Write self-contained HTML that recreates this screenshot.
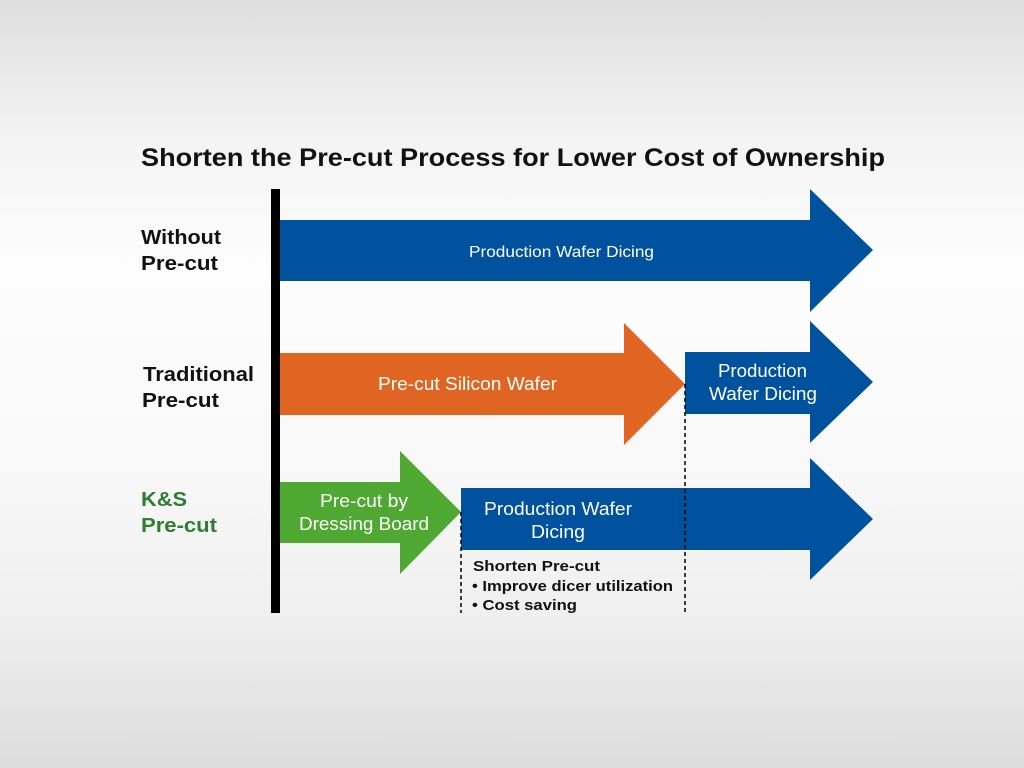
<!DOCTYPE html>
<html><head><style>
html,body{margin:0;padding:0;width:1024px;height:768px;overflow:hidden}
body{background:linear-gradient(to bottom,#dedede 0%,#f3f3f3 18%,#fdfdfd 35%,#f8f8f8 60%,#efefef 80%,#dcdcdc 100%)}
svg{display:block}
text{font-family:"Liberation Sans",Arial,sans-serif}
</style></head><body>
<svg width="1024" height="768" viewBox="0 0 1024 768" xmlns="http://www.w3.org/2000/svg">
<text x="141" y="166" font-size="25" font-weight="bold" fill="#111" textLength="744" lengthAdjust="spacingAndGlyphs">Shorten the Pre-cut Process for Lower Cost of Ownership</text>
<g font-size="20" font-weight="bold" fill="#111">
<text x="141" y="244" textLength="80" lengthAdjust="spacingAndGlyphs">Without</text><text x="141" y="270" textLength="77" lengthAdjust="spacingAndGlyphs">Pre-cut</text>
<text x="143" y="381" textLength="111" lengthAdjust="spacingAndGlyphs">Traditional</text><text x="142" y="407" textLength="77" lengthAdjust="spacingAndGlyphs">Pre-cut</text>
<text x="141" y="506" fill="#2e7d32" textLength="46" lengthAdjust="spacingAndGlyphs">K&amp;S</text><text x="141" y="532" fill="#2e7d32" textLength="76" lengthAdjust="spacingAndGlyphs">Pre-cut</text>
</g>
<rect x="271" y="189" width="9" height="424" fill="#000"/>
<polygon points="280,220 810,220 810,189 873,250 810,312 810,281 280,281" fill="#00519e"/>
<polygon points="280,353 624,353 624,323 685,384 624,445 624,415 280,415" fill="#e06522"/>
<polygon points="685,352 810,352 810,321 873,382 810,443 810,414 685,414" fill="#00519e"/>
<polygon points="461,488 810,488 810,458 873,519 810,580 810,550 461,550" fill="#00519e"/>
<polygon points="280,482 400,482 400,451 461,512 400,574 400,543 280,543" fill="#4ea832"/>
<line x1="461" y1="512" x2="461" y2="613" stroke="#000" stroke-width="1.5" stroke-dasharray="4,3"/>
<line x1="685" y1="384" x2="685" y2="613" stroke="#000" stroke-width="1.5" stroke-dasharray="4,3"/>
<g fill="#fff" font-size="18" lengthAdjust="spacingAndGlyphs">
<text x="469" y="257" font-size="16" textLength="185" lengthAdjust="spacingAndGlyphs">Production Wafer Dicing</text>
<text x="378" y="390" textLength="179" lengthAdjust="spacingAndGlyphs">Pre-cut Silicon Wafer</text>
<text x="718" y="377" textLength="89" lengthAdjust="spacingAndGlyphs">Production</text><text x="709" y="400" textLength="108" lengthAdjust="spacingAndGlyphs">Wafer Dicing</text>
<text x="320" y="507" textLength="88" lengthAdjust="spacingAndGlyphs">Pre-cut by</text><text x="299" y="530" textLength="130" lengthAdjust="spacingAndGlyphs">Dressing Board</text>
<text x="484" y="515" textLength="148" lengthAdjust="spacingAndGlyphs">Production Wafer</text><text x="531" y="538" textLength="54" lengthAdjust="spacingAndGlyphs">Dicing</text>
</g>
<g font-size="15" font-weight="bold" fill="#111">
<text x="473" y="571" textLength="127" lengthAdjust="spacingAndGlyphs">Shorten Pre-cut</text>
<text x="472" y="591" textLength="201" lengthAdjust="spacingAndGlyphs">• Improve dicer utilization</text>
<text x="472" y="610" textLength="105" lengthAdjust="spacingAndGlyphs">• Cost saving</text>
</g>
</svg>
</body></html>
